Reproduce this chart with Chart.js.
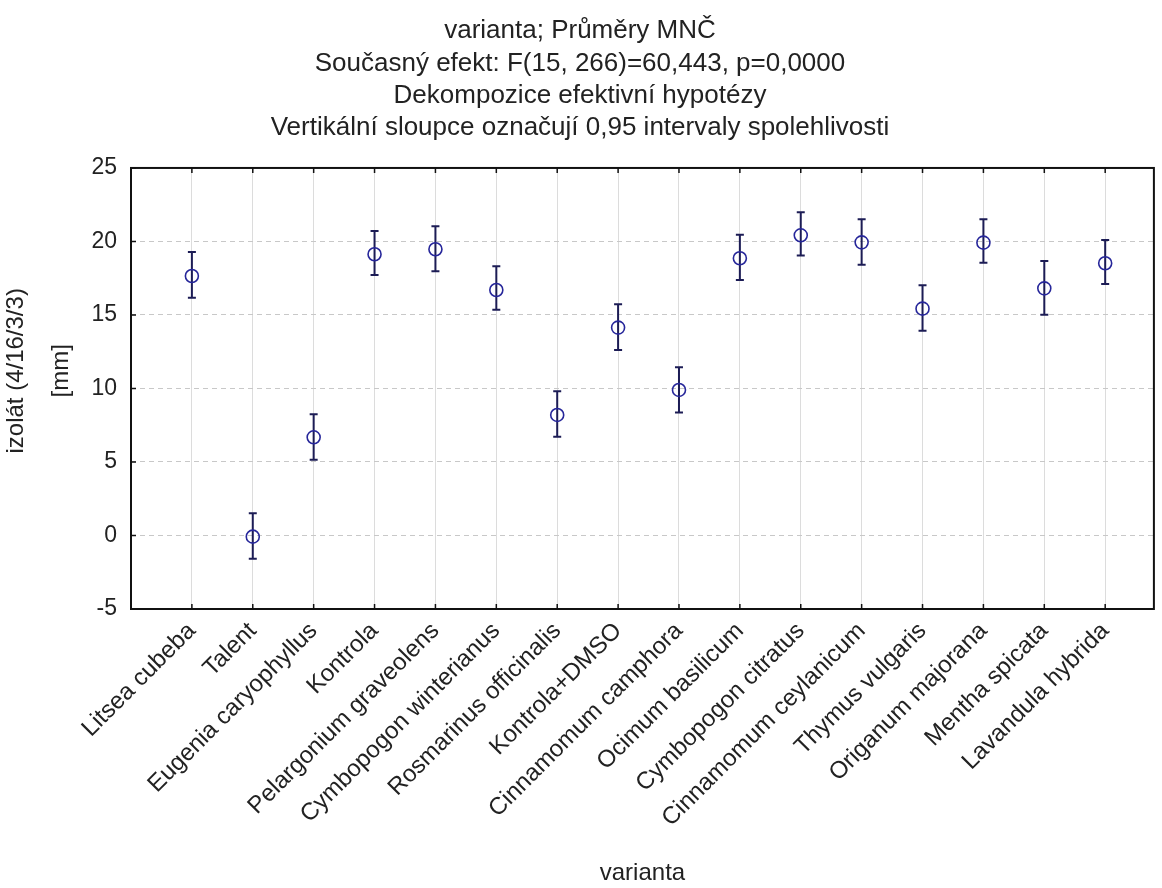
<!DOCTYPE html>
<html>
<head>
<meta charset="utf-8">
<script src="https://cdn.jsdelivr.net/npm/chart.js@4.4.0/dist/chart.umd.min.js"></script>
<style>
  body { margin: 0; background: #fff; }
</style>
</head>
<body>
<canvas id="chart" width="1162" height="888"></canvas>
<script>
// categories (varianta)
const labels = [
  "Litsea cubeba", "Talent", "Eugenia caryophyllus", "Kontrola",
  "Pelargonium graveolens", "Cymbopogon winterianus", "Rosmarinus officinalis",
  "Kontrola+DMSO", "Cinnamomum camphora", "Ocimum basilicum",
  "Cymbopogon citratus", "Cinnamomum ceylanicum", "Thymus vulgaris",
  "Origanum majorana", "Mentha spicata", "Lavandula hybrida"
];

// means and 0.95 confidence limits
const means = [17.65, -0.08, 6.68, 19.13, 19.47, 16.70, 8.20, 14.14, 9.90, 18.86, 20.42, 19.94, 15.43, 19.92, 16.81, 18.52];
const lower = [16.18, -1.58, 5.16, 17.72, 17.97, 15.36, 6.72, 12.62, 8.36, 17.38, 19.04, 18.42, 13.93, 18.56, 15.02, 17.11];
const upper = [19.29, 1.51, 8.24, 20.71, 21.03, 18.31, 9.81, 15.73, 11.44, 20.46, 21.98, 21.51, 17.02, 21.51, 18.67, 20.10];

const yTicks = [-5, 0, 5, 10, 15, 20, 25];

const titleLines = [
  "varianta; Průměry MNČ",
  "Současný efekt: F(15, 266)=60,443, p=0,0000",
  "Dekompozice efektivní hypotézy",
  "Vertikální sloupce označují 0,95 intervaly spolehlivosti"
];
const yTitle = ["izolát (4/16/3/3)", "[mm]"];

const font = "Liberation Sans, Arial, sans-serif";

// error bars, inner ticks, the frame and the y title
const errorBars = {
  id: "errorBars",
  beforeDatasetsDraw(chart) {
    const { ctx, scales: { x, y } } = chart;
    ctx.save();
    ctx.strokeStyle = "#1c1c55";
    ctx.lineWidth = 2;
    for (let i = 0; i < means.length; i++) {
      const px = x.getPixelForValue(i + 1);
      const top = y.getPixelForValue(upper[i]);
      const bot = y.getPixelForValue(lower[i]);
      ctx.beginPath();
      ctx.moveTo(px, top); ctx.lineTo(px, bot);
      ctx.moveTo(px - 4, top); ctx.lineTo(px + 4, top);
      ctx.moveTo(px - 4, bot); ctx.lineTo(px + 4, bot);
      ctx.stroke();
    }
    ctx.restore();
  },
  afterDraw(chart) {
    const { ctx, chartArea: a, scales: { x, y } } = chart;
    ctx.save();
    ctx.strokeStyle = "#111";
    ctx.lineWidth = 1.5;
    ctx.beginPath();
    for (let i = 0; i < labels.length; i++) {
      const px = x.getPixelForValue(i + 1);
      ctx.moveTo(px, a.top); ctx.lineTo(px, a.top + 5);
      ctx.moveTo(px, a.bottom); ctx.lineTo(px, a.bottom - 5);
    }
    yTicks.forEach(v => {
      const py = y.getPixelForValue(v);
      ctx.moveTo(a.left, py); ctx.lineTo(a.left + 5, py);
    });
    ctx.stroke();
    ctx.lineWidth = 2;
    ctx.strokeRect(a.left, a.top, a.right - a.left, a.bottom - a.top);

    // y axis title, sits a bit above the middle of the plot
    ctx.fillStyle = "#222";
    ctx.font = "24px " + font;
    ctx.textAlign = "center";
    ctx.textBaseline = "middle";
    ctx.translate(0, y.getPixelForValue(11.2));
    ctx.rotate(-Math.PI / 2);
    ctx.fillText(yTitle[0], 0, 16);
    ctx.fillText(yTitle[1], 0, 61);
    ctx.restore();
  }
};

const chart = new Chart(document.getElementById("chart"), {
  type: "scatter",
  data: {
    datasets: [{
      data: means.map((m, i) => ({ x: i + 1, y: m })),
      pointStyle: "circle",
      pointRadius: 6.5,
      pointHoverRadius: 6.5,
      borderColor: "#26269a",
      backgroundColor: "rgba(0,0,0,0)",
      borderWidth: 1.6
    }]
  },
  options: {
    responsive: false,
    animation: false,
    layout: { padding: { left: 0, right: 2, top: 0, bottom: 0 } },
    plugins: {
      legend: { display: false },
      tooltip: { enabled: false },
      title: {
        display: true,
        text: titleLines,
        color: "#222",
        font: { family: font, size: 26, weight: "normal", lineHeight: 1.24 },
        padding: { top: 15, bottom: 24 }
      }
    },
    scales: {
      x: {
        type: "linear",
        min: 0,
        max: 16.8,
        afterBuildTicks: s => { s.ticks = labels.map((_, i) => ({ value: i + 1 })); },
        afterFit: s => { s.height = 279; },
        grid: { color: "#dcdcdc", lineWidth: 1, drawTicks: false },
        border: { display: false },
        ticks: {
          autoSkip: false,
          maxRotation: 45,
          minRotation: 45,
          padding: 8,
          color: "#222",
          font: { family: font, size: 24 },
          callback: v => labels[v - 1]
        },
        title: {
          display: true,
          text: "varianta",
          color: "#222",
          font: { family: font, size: 24 },
          padding: { top: 0, bottom: 0 }
        }
      },
      y: {
        min: -5,
        max: 25,
        afterBuildTicks: s => { s.ticks = yTicks.map(v => ({ value: v })); },
        afterFit: s => { s.width = 131; },
        grid: { color: "#c8c8c8", lineWidth: 1, drawTicks: false },
        border: { display: false, dash: [5, 4] },
        ticks: {
          padding: 14,
          color: "#222",
          font: { family: font, size: 23 }
        },
        title: { display: false }
      }
    }
  },
  plugins: [errorBars]
});
</script>
</body>
</html>
